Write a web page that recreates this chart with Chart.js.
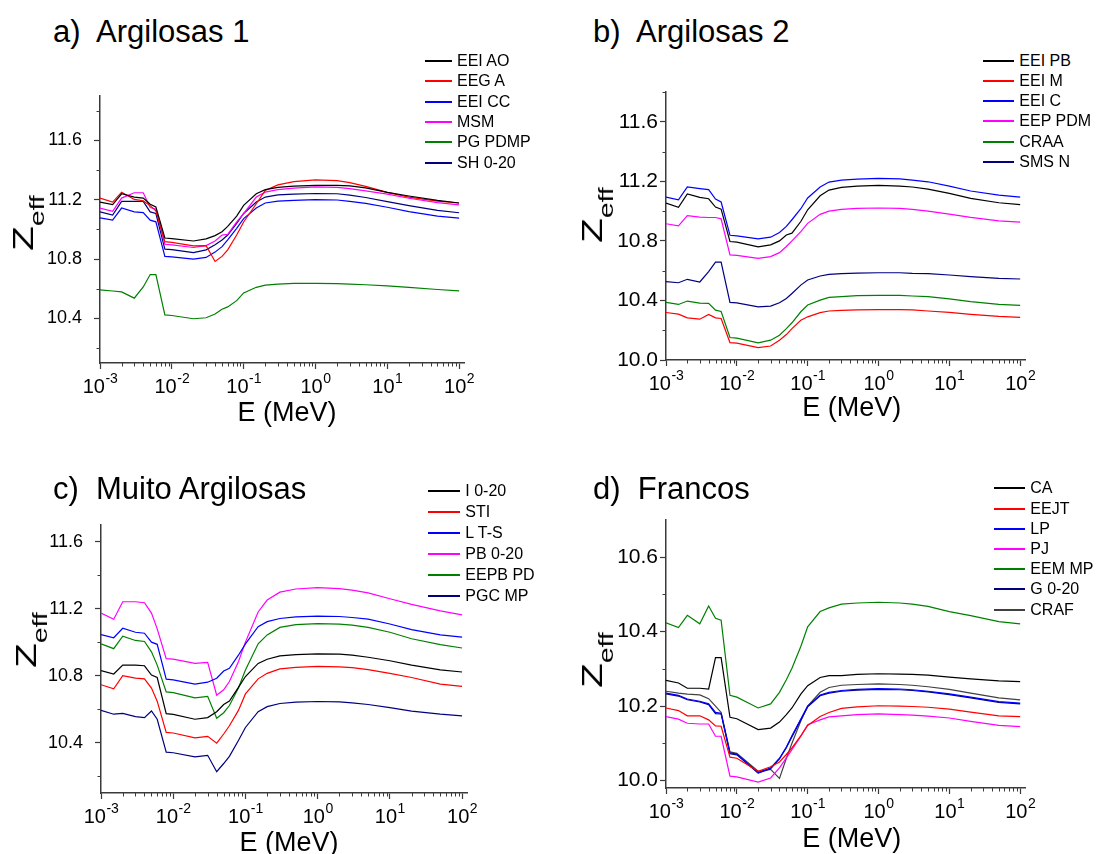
<!DOCTYPE html>
<html>
<head>
<meta charset="utf-8">
<script src="https://cdn.jsdelivr.net/npm/chart.js@4.4.1/dist/chart.umd.min.js"></script>
<style>
  body { margin: 0; background: #fff; font-family: "Liberation Sans", Arial, sans-serif; color: #000; }
  #page { position: relative; width: 1096px; height: 854px; overflow: hidden; }
  canvas { position: absolute; }
  .ttl { position: absolute; font-size: 31px; line-height: 31px; white-space: pre; }
  .xt { position: absolute; font-size: 27px; line-height: 27px; white-space: pre; transform: translateX(-50%); }
  .yt { position: absolute; font-size: 30px; height: 30px; line-height: 30px; white-space: nowrap;
        transform: translate(-50%, -50%) rotate(-90deg) scaleX(1.35); }
  .yt span { position: relative; top: 11px; font-size: 21px; }
  .lg { position: absolute; height: 20px; }
  .lg i { position: absolute; left: 0; top: 9px; height: 2px; }
  .lg b { position: absolute; top: 0; font-weight: normal; font-size: 16px; line-height: 20px; white-space: pre; }
</style>
</head>
<body>
<div id="page"></div>
<script>
// energy grid (MeV), shared by all panels
const energy = [0.001, 0.0015, 0.002, 0.003, 0.004, 0.005, 0.006, 0.008, 0.01, 0.02, 0.03, 0.04, 0.05, 0.06,
  0.08, 0.1, 0.15, 0.2, 0.3, 0.5, 1, 2, 3, 5, 10, 20, 50, 100];
const xTickPowers = [-3, -2, -1, 0, 1, 2];

// a) Argilosas 1
const aLabels = ['EEI AO', 'EEG A', 'EEI CC', 'MSM', 'PG PDMP', 'SH 0-20'];
const aEEIAO = [11.184, 11.167, 11.24, 11.218, 11.211, 11.17, 11.151, 10.942, 10.938, 10.922, 10.936, 10.958, 10.984, 11.02,
  11.09, 11.162, 11.24, 11.268, 11.283, 11.292, 11.297, 11.297, 11.293, 11.28, 11.249, 11.225, 11.195, 11.178];
const aEEGA = [11.211, 11.184, 11.251, 11.202, 11.193, 11.16, 11.125, 10.917, 10.913, 10.889, 10.891, 10.784, 10.818, 10.862,
  10.962, 11.05, 11.173, 11.262, 11.3, 11.322, 11.333, 11.328, 11.315, 11.29, 11.249, 11.218, 11.19, 11.178];
const aEEICC = [11.078, 11.062, 11.144, 11.118, 11.113, 11.062, 11.051, 10.818, 10.815, 10.8, 10.811, 10.847, 10.884, 10.929,
  11.007, 11.073, 11.144, 11.178, 11.19, 11.196, 11.2, 11.198, 11.189, 11.175, 11.149, 11.12, 11.09, 11.076];
const aMSM = [11.144, 11.122, 11.211, 11.247, 11.247, 11.147, 11.136, 10.9, 10.896, 10.878, 10.891, 10.922, 10.962, 10.967,
  11.051, 11.107, 11.218, 11.251, 11.268, 11.278, 11.286, 11.283, 11.275, 11.26, 11.238, 11.21, 11.18, 11.165];
const aPGPDMP = [10.592, 10.585, 10.579, 10.537, 10.612, 10.696, 10.696, 10.424, 10.42, 10.398, 10.405, 10.43, 10.462, 10.478,
  10.52, 10.572, 10.61, 10.625, 10.632, 10.636, 10.637, 10.635, 10.632, 10.627, 10.62, 10.61, 10.595, 10.586];
const aSH020 = [11.118, 11.096, 11.189, 11.189, 11.189, 11.118, 11.107, 10.867, 10.864, 10.844, 10.862, 10.896, 10.929, 10.962,
  11.04, 11.107, 11.184, 11.218, 11.232, 11.238, 11.242, 11.24, 11.231, 11.215, 11.187, 11.16, 11.128, 11.112];
const aYTicks = [10.4, 10.8, 11.2, 11.6];
const aYMinor = [10.2, 10.6, 11.0, 11.4, 11.8];

// b) Argilosas 2
const bLabels = ['EEI PB', 'EEI M', 'EEI C', 'EEP PDM', 'CRAA', 'SMS N'];
const bEEIPB = [11.054, 11.025, 11.115, 11.092, 11.083, 11.027, 11.013, 10.796, 10.792, 10.76, 10.773, 10.8, 10.84, 10.852,
  10.93, 11.009, 11.103, 11.141, 11.159, 11.168, 11.173, 11.168, 11.162, 11.148, 11.119, 11.085, 11.056, 11.043];
const bEEIM = [10.319, 10.308, 10.283, 10.274, 10.306, 10.283, 10.279, 10.117, 10.113, 10.083, 10.094, 10.133, 10.171, 10.211,
  10.267, 10.29, 10.318, 10.329, 10.333, 10.336, 10.338, 10.338, 10.336, 10.329, 10.32, 10.307, 10.293, 10.286];
const bEEIC = [11.094, 11.076, 11.162, 11.151, 11.144, 11.081, 11.061, 10.838, 10.834, 10.814, 10.825, 10.856, 10.897, 10.942,
  11.016, 11.088, 11.162, 11.195, 11.208, 11.215, 11.22, 11.217, 11.208, 11.197, 11.168, 11.135, 11.108, 11.094];
const bEEPPDM = [10.915, 10.901, 10.969, 10.96, 10.957, 10.957, 10.948, 10.706, 10.703, 10.683, 10.694, 10.721, 10.762, 10.8,
  10.862, 10.918, 10.978, 11.0, 11.012, 11.018, 11.021, 11.018, 11.012, 11.0, 10.98, 10.958, 10.935, 10.926];
const bCRAA = [10.387, 10.373, 10.396, 10.382, 10.38, 10.335, 10.326, 10.151, 10.147, 10.115, 10.133, 10.166, 10.211, 10.25,
  10.324, 10.369, 10.402, 10.421, 10.425, 10.432, 10.434, 10.434, 10.43, 10.425, 10.41, 10.392, 10.374, 10.367];
const bSMSN = [10.526, 10.519, 10.542, 10.524, 10.593, 10.658, 10.658, 10.387, 10.384, 10.357, 10.362, 10.384, 10.413, 10.447,
  10.503, 10.537, 10.564, 10.575, 10.58, 10.584, 10.586, 10.586, 10.582, 10.58, 10.571, 10.56, 10.548, 10.544];
const bYTicks = [10.0, 10.4, 10.8, 11.2, 11.6];
const bYMinor = [10.2, 10.6, 11.0, 11.4, 11.8];

// c) Muito Argilosas
const cLabels = ['I 0-20', 'STI', 'L T-S', 'PB 0-20', 'EEPB PD', 'PGC MP'];
const cI020 = [10.83, 10.81, 10.863, 10.863, 10.859, 10.804, 10.789, 10.573, 10.569, 10.54, 10.55, 10.585, 10.628, 10.648,
  10.73, 10.795, 10.873, 10.898, 10.918, 10.926, 10.93, 10.928, 10.922, 10.91, 10.889, 10.863, 10.834, 10.822];
const cSTI = [10.746, 10.722, 10.8, 10.785, 10.781, 10.726, 10.648, 10.462, 10.458, 10.429, 10.438, 10.397, 10.452, 10.501,
  10.593, 10.691, 10.781, 10.814, 10.84, 10.85, 10.855, 10.853, 10.848, 10.836, 10.814, 10.789, 10.75, 10.736];
const cLTS = [11.045, 11.026, 11.083, 11.059, 11.053, 11.0, 10.987, 10.779, 10.775, 10.75, 10.761, 10.785, 10.828, 10.844,
  10.922, 10.99, 11.092, 11.122, 11.141, 11.151, 11.155, 11.153, 11.147, 11.137, 11.108, 11.075, 11.043, 11.03];
const cPB020 = [11.173, 11.137, 11.241, 11.241, 11.235, 11.173, 11.079, 10.902, 10.899, 10.873, 10.879, 10.683, 10.716, 10.765,
  10.883, 11.0, 11.18, 11.251, 11.298, 11.317, 11.325, 11.319, 11.31, 11.294, 11.259, 11.225, 11.186, 11.163];
const cEEPBPD = [10.99, 10.961, 11.036, 11.01, 11.004, 10.942, 10.863, 10.703, 10.699, 10.667, 10.677, 10.546, 10.579, 10.622,
  10.726, 10.834, 10.99, 11.043, 11.088, 11.104, 11.11, 11.108, 11.102, 11.088, 11.059, 11.02, 10.985, 10.965];
const cPGCMP = [10.593, 10.57, 10.575, 10.556, 10.55, 10.589, 10.54, 10.344, 10.34, 10.315, 10.325, 10.227, 10.276, 10.319,
  10.413, 10.491, 10.585, 10.615, 10.634, 10.642, 10.646, 10.644, 10.638, 10.628, 10.609, 10.589, 10.57, 10.56];
const cYTicks = [10.4, 10.8, 11.2, 11.6];
const cYMinor = [10.2, 10.6, 11.0, 11.4];

// d) Francos
const dLabels = ['CA', 'EEJT', 'LP', 'PJ', 'EEM MP', 'G 0-20', 'CRAF'];
const dCA = [10.269, 10.262, 10.248, 10.248, 10.246, 10.33, 10.33, 10.17, 10.166, 10.137, 10.141, 10.157, 10.177, 10.195,
  10.232, 10.255, 10.277, 10.282, 10.282, 10.285, 10.287, 10.286, 10.285, 10.283, 10.278, 10.273, 10.268, 10.266];
const dEEJT = [10.195, 10.188, 10.174, 10.174, 10.163, 10.147, 10.146, 10.063, 10.06, 10.025, 10.037, 10.05, 10.07, 10.088,
  10.12, 10.148, 10.172, 10.183, 10.194, 10.198, 10.201, 10.2, 10.199, 10.197, 10.192, 10.184, 10.174, 10.172];
const dLP = [10.235, 10.229, 10.219, 10.213, 10.206, 10.183, 10.181, 10.074, 10.071, 10.021, 10.034, 10.06, 10.09, 10.12,
  10.165, 10.2, 10.23, 10.237, 10.242, 10.245, 10.247, 10.246, 10.244, 10.24, 10.233, 10.224, 10.212, 10.208];
const dPJ = [10.172, 10.165, 10.154, 10.152, 10.152, 10.119, 10.119, 10.012, 10.01, 9.996, 10.007, 10.034, 10.061, 10.083,
  10.119, 10.15, 10.163, 10.171, 10.174, 10.177, 10.179, 10.177, 10.176, 10.173, 10.168, 10.159, 10.148, 10.145];
const dEEMMP = [10.424, 10.411, 10.444, 10.421, 10.469, 10.436, 10.431, 10.229, 10.224, 10.195, 10.206, 10.237, 10.271, 10.302,
  10.36, 10.413, 10.454, 10.464, 10.474, 10.477, 10.479, 10.477, 10.474, 10.468, 10.454, 10.443, 10.427, 10.421];
const dG020 = [10.233, 10.227, 10.217, 10.211, 10.204, 10.18, 10.179, 10.072, 10.069, 10.02, 10.032, 10.058, 10.088, 10.118,
  10.163, 10.198, 10.228, 10.235, 10.24, 10.243, 10.245, 10.244, 10.242, 10.238, 10.231, 10.222, 10.21, 10.206];
const dCRAF = [10.24, 10.235, 10.232, 10.23, 10.22, 10.2, 10.183, 10.077, 10.073, 10.025, 10.03, 10.006, 10.06, 10.1,
  10.16, 10.2, 10.237, 10.25, 10.256, 10.258, 10.26, 10.258, 10.256, 10.252, 10.245, 10.235, 10.222, 10.217];
const dYTicks = [10.0, 10.2, 10.4, 10.6];
const dYMinor = [10.1, 10.3, 10.5];

const six = ['#000000', '#ff0000', '#0000ff', '#ff00ff', '#008000', '#000080'];
const dColors = ['#000000', '#ff0000', '#0000ff', '#ff00ff', '#008000', '#000080', '#404040'];
const FONT = '"Liberation Sans", Arial, sans-serif';
const axisColor = '#3a3a3a';

const panels = [
  { title: 'a)  Argilosas 1', labels: aLabels, colors: six, series: [aEEIAO, aEEGA, aEEICC, aMSM, aPGPDMP, aSH020],
    yMin: 10.1, yMax: 11.9, yTicks: aYTicks, yMinor: aYMinor,
    box: [0, 73, 480, 330], plot: [100, 93, 464, 363], tickFont: 18, tickPad: 12,
    titlePos: [53, 42], xTitle: [287, 421.7], zeff: [22.6, 222.5], legend: [425, 60.7, 20.4, 27] },
  { title: 'b)  Argilosas 2', labels: bLabels, colors: six, series: [bEEIPB, bEEIM, bEEIC, bEEPPDM, bCRAA, bSMSN],
    yMin: 10.0, yMax: 11.8, yTicks: bYTicks, yMinor: bYMinor,
    box: [540, 72, 556, 330], plot: [666, 92, 1025, 360], tickFont: 21, tickPad: 2,
    titlePos: [593, 42], xTitle: [851.7, 416.7], zeff: [591.6, 215], legend: [983.3, 60.7, 20.2, 31] },
  { title: 'c)  Muito Argilosas', labels: cLabels, colors: six, series: [cI020, cSTI, cLTS, cPB020, cEEPBPD, cPGCMP],
    yMin: 10.1, yMax: 11.7, yTicks: cYTicks, yMinor: cYMinor,
    box: [0, 502, 480, 330], plot: [101, 522, 467, 793], tickFont: 18, tickPad: 12,
    titlePos: [53, 499], xTitle: [289, 852], zeff: [25.6, 640], legend: [428.3, 490.7, 21.1, 32] },
  { title: 'd)  Francos', labels: dLabels, colors: dColors, series: [dCA, dEEJT, dLP, dPJ, dEEMMP, dG020, dCRAF],
    yMin: 9.98, yMax: 10.7, yTicks: dYTicks, yMinor: dYMinor,
    box: [540, 500, 556, 330], plot: [666, 520, 1025, 788], tickFont: 21, tickPad: 2,
    titlePos: [593, 499], xTitle: [851.7, 847.5], zeff: [591.6, 660], legend: [994.3, 488.3, 20.2, 31] }
];

// minor ticks on both axes and the 10^n labels under the log axis
const axisExtras = {
  id: 'axisExtras',
  afterDraw(chart, args, opts) {
    const { ctx, scales: { x, y } } = chart;
    ctx.save();
    ctx.strokeStyle = axisColor;
    ctx.lineWidth = 1;
    ctx.beginPath();
    xTickPowers.forEach(p => {
      for (let k = 2; k <= 9; k++) {
        const v = k * Math.pow(10, p);
        if (v > x.max) break;
        const px = Math.round(x.getPixelForValue(v)) + 0.5;
        ctx.moveTo(px, y.bottom);
        ctx.lineTo(px, y.bottom + 3.5);
      }
    });
    opts.yMinor.forEach(v => {
      const py = Math.round(y.getPixelForValue(v)) + 0.5;
      ctx.moveTo(x.left, py);
      ctx.lineTo(x.left - 3.5, py);
    });
    ctx.stroke();

    ctx.fillStyle = '#000';
    ctx.textAlign = 'left';
    ctx.textBaseline = 'alphabetic';
    xTickPowers.forEach(p => {
      const px = x.getPixelForValue(Math.pow(10, p));
      const sup = String(p);
      ctx.font = '20px ' + FONT;
      const w1 = ctx.measureText('10').width;
      ctx.font = '14px ' + FONT;
      const w2 = ctx.measureText(sup).width;
      const x0 = px - (w1 + w2) / 2;
      const by = y.bottom + 30;
      ctx.font = '20px ' + FONT;
      ctx.fillText('10', x0, by);
      ctx.font = '14px ' + FONT;
      ctx.fillText(sup, x0 + w1 + 0.5, by - 10);
    });
    ctx.restore();
  }
};

const page = document.getElementById('page');

function add(cls, css, text) {
  const el = document.createElement('div');
  el.className = cls;
  Object.assign(el.style, css);
  if (text !== undefined) el.textContent = text;
  page.appendChild(el);
  return el;
}

panels.forEach(p => {
  const [bx, by, bw, bh] = p.box;
  const [L, T, R, B] = p.plot;
  const canvas = document.createElement('canvas');
  canvas.width = bw;
  canvas.height = bh;
  canvas.style.left = bx + 'px';
  canvas.style.top = by + 'px';
  page.appendChild(canvas);

  new Chart(canvas, {
    type: 'line',
    data: {
      datasets: p.series.map((vals, i) => ({
        label: p.labels[i],
        data: energy.map((e, j) => ({ x: e, y: vals[j] })),
        borderColor: p.colors[i],
        borderWidth: 1.2,
        pointRadius: 0,
        fill: false,
        tension: 0
      }))
    },
    options: {
      responsive: false,
      animation: false,
      events: [],
      layout: { padding: { left: 0, top: T - by, right: bx + bw - R, bottom: 0 } },
      plugins: {
        legend: { display: false },
        tooltip: { enabled: false },
        axisExtras: { yMinor: p.yMinor }
      },
      scales: {
        x: {
          type: 'logarithmic',
          min: 0.001,
          max: 117,
          afterBuildTicks: s => { s.ticks = xTickPowers.map(k => ({ value: Math.pow(10, k) })); },
          afterFit: s => { s.height = by + bh - B; },
          ticks: { display: false },
          grid: { drawOnChartArea: false, drawTicks: true, tickLength: 6, tickColor: axisColor, tickWidth: 1.2 },
          border: { display: true, color: axisColor, width: 1.5 }
        },
        y: {
          type: 'linear',
          min: p.yMin,
          max: p.yMax,
          afterBuildTicks: s => { s.ticks = p.yTicks.map(v => ({ value: v })); },
          afterFit: s => { s.width = L - bx; },
          ticks: {
            color: '#000',
            padding: p.tickPad,
            font: { family: FONT, size: p.tickFont },
            callback: v => Number(v).toFixed(1)
          },
          grid: { drawOnChartArea: false, drawTicks: true, tickLength: 6, tickColor: axisColor, tickWidth: 1.2 },
          border: { display: true, color: axisColor, width: 1.5 }
        }
      }
    },
    plugins: [axisExtras]
  });

  // panel title, axis titles
  add('ttl', { left: p.titlePos[0] + 'px', top: (p.titlePos[1] - 26.2) + 'px' }, p.title);
  add('xt', { left: p.xTitle[0] + 'px', top: (p.xTitle[1] - 22.9) + 'px' }, 'E (MeV)');
  const z = add('yt', { left: p.zeff[0] + 'px', top: p.zeff[1] + 'px' });
  z.innerHTML = 'Z<span>eff</span>';

  // legend
  const [lx, ly, step, lw] = p.legend;
  p.labels.forEach((name, i) => {
    const row = add('lg', { left: lx + 'px', top: (ly + i * step - 10) + 'px' });
    const line = document.createElement('i');
    line.style.width = lw + 'px';
    line.style.background = p.colors[i];
    const txt = document.createElement('b');
    txt.style.left = (lw + 5) + 'px';
    txt.textContent = name;
    row.appendChild(line);
    row.appendChild(txt);
  });
});
</script>
</body>
</html>
